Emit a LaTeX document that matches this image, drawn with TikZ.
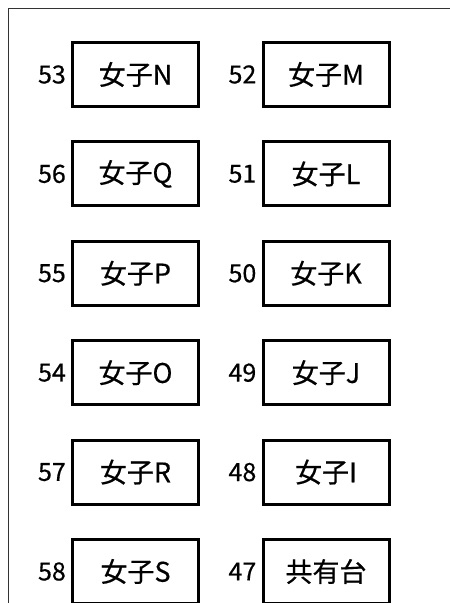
\documentclass[tikz,border=0pt]{standalone}
\usepackage{fontspec}
\setmainfont{Noto Sans CJK JP}[BoldFont = {Noto Sans CJK JP}, BoldFeatures = {FakeBold = 0.5}]
\begin{document}
\begin{tikzpicture}[x = 1pt, y = -1pt,
    seat/.style = {draw, line width = 3pt, minimum width = 126pt, minimum height = 64pt, inner sep = 0pt, font = \fontsize{27}{27}\selectfont\bfseries},
    num/.style = {anchor = east, inner sep = 0pt, font = \fontsize{25}{25}\selectfont\bfseries}]
      \useasboundingbox (0,0) rectangle (450,603);
      \clip (0,0) rectangle (450,603);
      \draw [line width = 1pt, black!80] (8,603) -- (8,8) -- (450,8);
      % left column
      \node [seat] (n) at (135.5,74.5) {女子N};
      \node [seat] (q) at (135.5,173.9) {女子Q};
      \node [seat] (p) at (135.5,273.3) {女子P};
      \node [seat] (o) at (135.5,372.7) {女子O};
      \node [seat] (r) at (135.5,472.1) {女子R};
      \node [seat] (s) at (135.5,571.5) {女子S};
      % right column
      \node [seat] (m) at (326,74.5) {女子M};
      \node [seat] (l) at (326,173.9) {女子L};
      \node [seat] (k) at (326,273.3) {女子K};
      \node [seat] (j) at (326,372.7) {女子J};
      \node [seat] (i) at (326,472.1) {女子I};
      \node [seat] (share) at (326,571.5) {共有台};
      % seat numbers
      \node [num] (n53) at ([xshift = -5pt] n.west) {53};
      \node [num] (n56) at ([xshift = -5pt] q.west) {56};
      \node [num] (n55) at ([xshift = -5pt] p.west) {55};
      \node [num] (n54) at ([xshift = -5pt] o.west) {54};
      \node [num] (n57) at ([xshift = -5pt] r.west) {57};
      \node [num] (n58) at ([xshift = -5pt] s.west) {58};
      \node [num] (n52) at ([xshift = -5pt] m.west) {52};
      \node [num] (n51) at ([xshift = -5pt] l.west) {51};
      \node [num] (n50) at ([xshift = -5pt] k.west) {50};
      \node [num] (n49) at ([xshift = -5pt] j.west) {49};
      \node [num] (n48) at ([xshift = -5pt] i.west) {48};
      \node [num] (n47) at ([xshift = -5pt] share.west) {47};
\end{tikzpicture}
\end{document}
